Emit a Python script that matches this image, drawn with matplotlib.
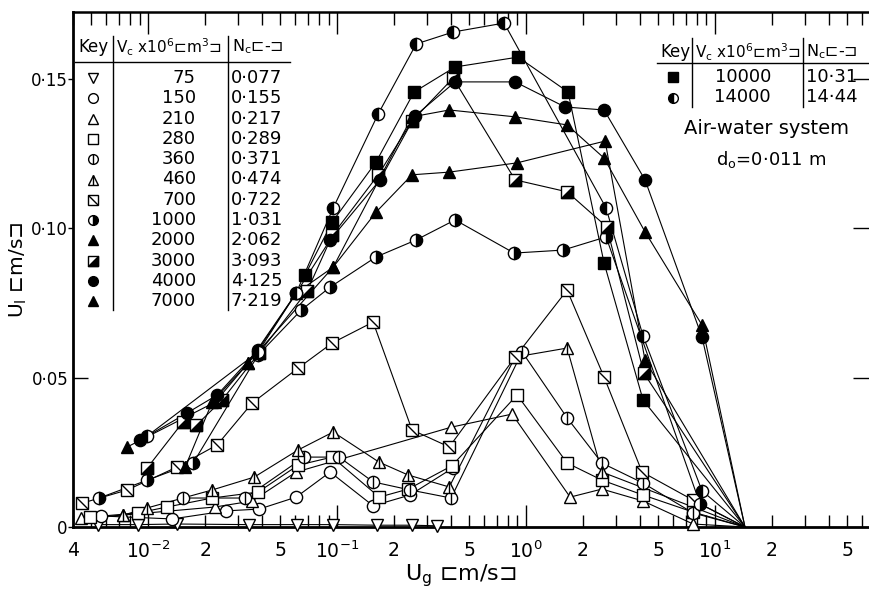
import matplotlib.pyplot as plt
from matplotlib.path import Path
from matplotlib.lines import Line2D
from matplotlib.ticker import FixedLocator, FixedFormatter

plt.rcParams['font.family'] = ['DejaVu Sans']

# ---- data: Ug [m/s] vs Ul [m/s] for each Vc x1e6 [m3] ----
ug_flood = 14.4   # all curves run down to Ul = 0 here

ug_75 = [0.0054, 0.0088, 0.0142, 0.034, 0.061, 0.095, 0.163, 0.249, 0.338]
ul_75 = [0.0008, 0.0008, 0.0010, 0.0008, 0.0008, 0.0008, 0.0006, 0.0006, 0.0004]

ug_150 = [0.0056, 0.0134, 0.0259, 0.0387, 0.0607, 0.0918, 0.155, 0.243, 0.411]
ul_150 = [0.0037, 0.0027, 0.0054, 0.0060, 0.0100, 0.0184, 0.0071, 0.0107, 0.0198]

ug_210 = [0.0044, 0.0074, 0.0226, 0.0355, 0.0607, 0.401, 0.843, 1.71, 2.52, 4.16, 7.65]
ul_210 = [0.0030, 0.0040, 0.0067, 0.0087, 0.0184, 0.0334, 0.0378, 0.0100, 0.0127, 0.0087, 0.0010]

ug_280 = [0.0049, 0.0088, 0.0126, 0.0218, 0.0382, 0.0622, 0.0942, 0.167, 0.238, 0.405, 0.896, 1.65, 2.52, 4.16, 7.65]
ul_280 = [0.0033, 0.0047, 0.0067, 0.0097, 0.0117, 0.0207, 0.0234, 0.0100, 0.0127, 0.0205, 0.0442, 0.0214, 0.0157, 0.0107, 0.0050]

ug_360 = [0.0153, 0.0326, 0.0669, 0.1025, 0.155, 0.243, 0.401, 0.953, 1.65, 2.52, 4.16, 7.65]
ul_360 = [0.0097, 0.0097, 0.0234, 0.0234, 0.0151, 0.0124, 0.0097, 0.0586, 0.0365, 0.0214, 0.0147, 0.0047]

ug_460 = [0.0074, 0.0099, 0.0218, 0.0364, 0.0622, 0.0953, 0.1668, 0.2376, 0.392, 0.875, 1.648, 2.52]
ul_460 = [0.0040, 0.0064, 0.0124, 0.0167, 0.0258, 0.0318, 0.0217, 0.0174, 0.0134, 0.0569, 0.0599, 0.0184]

ug_700 = [0.00448, 0.00775, 0.01423, 0.0232, 0.0355, 0.0622, 0.0942, 0.155, 0.249, 0.392, 0.875, 1.648, 2.586, 4.11, 7.65]
ul_700 = [0.0080, 0.0124, 0.0201, 0.0275, 0.0415, 0.0532, 0.0616, 0.0686, 0.0325, 0.0268, 0.0569, 0.0793, 0.0502, 0.0184, 0.0090]

ug_1000 = [0.0055, 0.0099, 0.0173, 0.0382, 0.0645, 0.0918, 0.1607, 0.262, 0.421, 0.864, 1.57, 2.65, 8.33]
ul_1000 = [0.0097, 0.0157, 0.0214, 0.0576, 0.0726, 0.0803, 0.0904, 0.0961, 0.1028, 0.0917, 0.0927, 0.0971, 0.0077]

ug_2000 = [0.0157, 0.0218, 0.0338, 0.0607, 0.0953, 0.1607, 0.249, 0.392, 0.896, 2.62, 4.26]
ul_2000 = [0.0201, 0.0418, 0.0549, 0.0783, 0.0870, 0.1054, 0.1179, 0.1188, 0.1219, 0.1292, 0.0558]

ug_3000 = [0.00989, 0.0153, 0.0180, 0.0246, 0.0387, 0.0694, 0.0942, 0.165, 0.249, 0.411, 0.875, 1.648, 2.67, 4.20]
ul_3000 = [0.0198, 0.0352, 0.0341, 0.0425, 0.0583, 0.0790, 0.0976, 0.1179, 0.1359, 0.1503, 0.1162, 0.1122, 0.1005, 0.0515]

ug_4000 = [0.0091, 0.0161, 0.0232, 0.0382, 0.0607, 0.0918, 0.1686, 0.2584, 0.421, 0.875, 1.608, 2.586, 4.26, 8.53]
ul_4000 = [0.0291, 0.0382, 0.0442, 0.0593, 0.0783, 0.0961, 0.1162, 0.1376, 0.1490, 0.1490, 0.1406, 0.1396, 0.1162, 0.0636]

ug_7000 = [0.00775, 0.0226, 0.0338, 0.0953, 0.249, 0.392, 0.875, 1.648, 2.586, 4.26, 8.53]
ul_7000 = [0.0268, 0.0418, 0.0549, 0.0870, 0.1373, 0.1396, 0.1373, 0.1346, 0.1235, 0.0988, 0.0676]

ug_10000 = [0.0677, 0.0942, 0.1607, 0.2553, 0.421, 0.907, 1.668, 2.586, 4.16]
ul_10000 = [0.0844, 0.1021, 0.1222, 0.1456, 0.1540, 0.1573, 0.1456, 0.0884, 0.0425]

ug_14000 = [0.0099, 0.0382, 0.0607, 0.0953, 0.165, 0.262, 0.411, 0.765, 2.65, 4.16, 8.53]
ul_14000 = [0.0305, 0.0586, 0.0783, 0.1068, 0.1383, 0.1617, 0.1657, 0.1687, 0.1068, 0.0639, 0.0121]

key_left_vc = ['75', '150', '210', '280', '360', '460', '700', '1000', '2000', '3000', '4000', '7000']
key_left_nc = ['0·077', '0·155', '0·217', '0·289', '0·371', '0·474', '0·722', '1·031', '2·062', '3·093', '4·125', '7·219']
key_right_vc = ['10000', '14000']
key_right_nc = ['10·31', '14·44']

xtick_major = [0.01, 0.1, 1, 10]
xtick_major_lab = ['$10^{-2}$', '$10^{-1}$', '$10^{0}$', '$10^{1}$']

# ---- marker styles ----
diag = Path([(-1, 1), (1, -1)], [Path.MOVETO, Path.LINETO])
half = Path([(-1, -1), (1, -1), (1, 1), (-1, -1)],
            [Path.MOVETO, Path.LINETO, Path.LINETO, Path.CLOSEPOLY])
vbar = Path([(0, -1), (0, 1)], [Path.MOVETO, Path.LINETO])
op = dict(mfc='white', mec='k')
fu = dict(mfc='k', mec='k')
STY = {
    '75': [('v', op)],
    '150': [('o', op)],
    '210': [('^', op)],
    '280': [('s', op)],
    '360': [('o', op), (vbar, dict(mfc='none', mec='k'))],
    '460': [('^', op), (vbar, dict(mfc='none', mec='k'))],
    '700': [('s', op), (diag, dict(mfc='none', mec='k'))],
    '1000': [('o', dict(mfc='k', mec='k', fillstyle='right', markerfacecoloralt='white'))],
    '2000': [('^', fu)],
    '3000': [('s', op), (half, fu)],
    '4000': [('o', fu)],
    '7000': [('^', fu)],
    '10000': [('s', fu)],
    '14000': [('o', dict(mfc='k', mec='k', fillstyle='left', markerfacecoloralt='white'))],
}

W, H = 869, 590
fig = plt.figure(figsize=(W / 100, H / 100), dpi=100)
ax = fig.add_axes([73 / W, (H - 527) / H, 799 / W, 515 / H])
ax.set_xscale('log')
ax.set_xlim(0.004, 67.7)
ax.set_ylim(0, 0.1724)


def series(vc, x, y, end=True, ms=8.8):
    xs = list(x) + ([ug_flood] if end else [])
    ys = list(y) + ([0.0] if end else [])
    ax.plot(xs, ys, color='k', lw=0.8, zorder=2, clip_on=False)
    for m, kw in STY[vc]:
        ax.plot(x, y, ls='none', color='k', marker=m, ms=ms, mew=1.0,
                zorder=3, clip_on=False, **kw)


series('75', ug_75, ul_75, end=False)
series('150', ug_150, ul_150, end=False)
series('210', ug_210, ul_210)
series('280', ug_280, ul_280)
series('360', ug_360, ul_360)
series('460', ug_460, ul_460)
series('700', ug_700, ul_700)
series('1000', ug_1000, ul_1000)
series('2000', ug_2000, ul_2000)
series('3000', ug_3000, ul_3000)
series('4000', ug_4000, ul_4000)
series('7000', ug_7000, ul_7000)
series('10000', ug_10000, ul_10000)
series('14000', ug_14000, ul_14000)

# ---- axes cosmetics ----
for s in ['left', 'bottom']:
    ax.spines[s].set_linewidth(2.0)
ax.spines['top'].set_linewidth(1.8)
ax.spines['right'].set_visible(False)

minor, minor_lab = [], []
for d in [0.001, 0.01, 0.1, 1, 10]:
    for k in range(2, 10):
        v = k * d
        if 0.004 <= v <= 67:
            minor.append(v)
            if d == 0.001:
                minor_lab.append('4' if k == 4 else '')
            else:
                minor_lab.append(str(k) if k in (2, 5) else '')
ax.xaxis.set_major_locator(FixedLocator(xtick_major))
ax.xaxis.set_major_formatter(FixedFormatter(xtick_major_lab))
ax.xaxis.set_minor_locator(FixedLocator(minor))
ax.xaxis.set_minor_formatter(FixedFormatter(minor_lab))
ax.tick_params(axis='x', which='both', direction='in', top=True, bottom=True,
               labelsize=13.5, pad=10, width=1.0)
ax.tick_params(axis='x', which='major', length=16)
ax.tick_params(axis='x', which='minor', length=9)

ax.yaxis.set_major_locator(FixedLocator([0, 0.10, 0.15]))
ax.yaxis.set_major_formatter(FixedFormatter(['0', '0·10', '0·15']))
ax.yaxis.set_minor_locator(FixedLocator([0.05]))
ax.yaxis.set_minor_formatter(FixedFormatter(['0·05']))
ax.tick_params(axis='y', which='major', direction='out', length=3.5, width=1.0, labelsize=12, pad=0.5)
ax.tick_params(axis='y', which='minor', direction='in', length=11, width=1.0, labelsize=12, pad=3.5)

ax2 = ax.twinx()
ax2.set_ylim(ax.get_ylim())
ax2.set_yticks([0.05, 0.10, 0.15])
ax2.tick_params(axis='y', direction='in', length=14, width=1.0, labelright=False)
for s in ax2.spines.values():
    s.set_visible(False)

fig.text(461 / W, 1 - 576 / H, 'U$_\\mathrm{g}$ ⊏m/s⊐', ha='center', va='center', fontsize=16)
fig.text(18 / W, 1 - 270 / H, 'U$_\\mathrm{l}$ ⊏m/s⊐', ha='center', va='center', fontsize=14.5, rotation=90)


# ---- key tables (positions in pixels of the figure) ----
def P(px, py):
    return px / W, 1 - py / H


def fline(x0, y0, x1, y1, lw=1.0):
    a, b = P(x0, y0)
    c, d = P(x1, y1)
    fig.add_artist(Line2D([a, c], [b, d], color='k', lw=lw))


def fmark(vc, px, py, ms=7):
    a, b = P(px, py)
    for m, kw in STY[vc]:
        fig.add_artist(Line2D([a], [b], ls='none', color='k', marker=m, ms=ms, mew=1.0, **kw))


hdr_vc = 'V$_\\mathrm{c}$ x10$^6$⊏m$^3$⊐'
hdr_nc = 'N$_\\mathrm{c}$⊏-⊐'
fh = 11
fs = 13

# left table
fig.text(*P(78, 47), 'Key', ha='left', va='center', fontsize=fh + 1)
fig.text(*P(116, 47), hdr_vc, ha='left', va='center', fontsize=fh)
fig.text(*P(232, 47), hdr_nc, ha='left', va='center', fontsize=fh + 0.5)
fline(75, 62, 290, 62)
fline(113, 36, 113, 310)
fline(228, 36, 228, 310)
for i, (vc, nc) in enumerate(zip(key_left_vc, key_left_nc)):
    py = 78 + 20.3 * i
    fmark(vc, 93, py)
    fig.text(*P(196, py), vc, ha='right', va='center', fontsize=fs)
    fig.text(*P(231, py), nc, ha='left', va='center', fontsize=fs)

# right table
fig.text(*P(660, 52), 'Key', ha='left', va='center', fontsize=fh + 1)
fig.text(*P(695, 52), hdr_vc, ha='left', va='center', fontsize=fh)
fig.text(*P(806, 52), hdr_nc, ha='left', va='center', fontsize=fh + 0.5)
fline(657, 63, 869, 63)
fline(692, 38, 692, 107)
fline(803, 38, 803, 107)
for i, (vc, nc) in enumerate(zip(key_right_vc, key_right_nc)):
    py = 77 + 20.5 * i
    fmark(vc, 673, py)
    fig.text(*P(771, py), vc, ha='right', va='center', fontsize=fs)
    fig.text(*P(806, py), nc, ha='left', va='center', fontsize=fs)

fig.text(*P(766, 129), 'Air-water system', ha='center', va='center', fontsize=14)
fig.text(*P(771, 160), 'd$_\\mathrm{o}$=0·011 m', ha='center', va='center', fontsize=13)

fig.savefig('out.png', dpi=100)
